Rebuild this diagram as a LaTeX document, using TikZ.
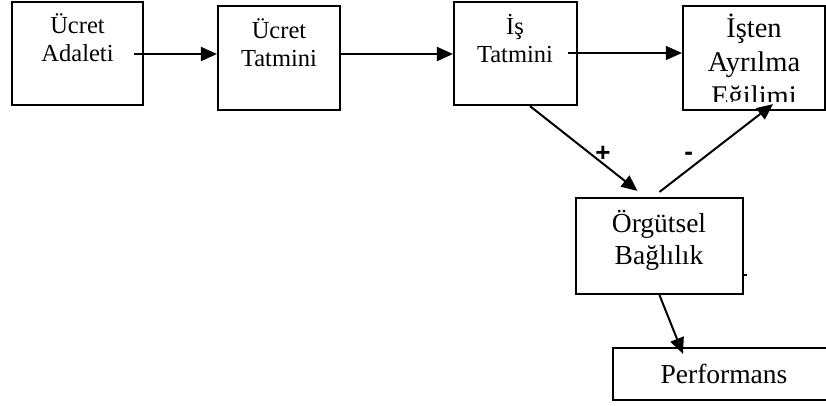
\documentclass[tikz,border=0pt]{standalone}
\usepackage{fontspec}
\setmainfont{Liberation Serif}
\newfontfamily\isaretfont{Liberation Sans}
\usetikzlibrary{positioning,arrows.meta}

\tikzset{
  kutu/.style={draw=black,line width=2.2pt,inner sep=0pt},
  yazi/.style={align=center,inner sep=0pt,font=\fontsize{24.5}{28}\selectfont},
  buyukyazi/.style={align=center,inner sep=0pt,font=\fontsize{27.5}{32}\selectfont},
  ok/.style={draw=black,line width=2pt,-{Triangle[length=16pt,width=14pt]}},
  isaret/.style={font=\isaretfont\bfseries\fontsize{26}{26}\selectfont}
}

\begin{document}
\begin{tikzpicture}[x=1pt,y=-1pt]
\useasboundingbox (0,0) rectangle (826,405);

\node[kutu,minimum width=131pt,minimum height=103pt] (ucretadalet) at (77.5,53.5) {};
\node[kutu,minimum width=122pt,minimum height=104pt] (ucrettatmin) at (279,58) {};
\node[kutu,minimum width=123pt,minimum height=103pt] (istatmin) at (515.5,53.5) {};
\node[kutu,minimum width=142pt,minimum height=104pt] (ayrilma) at (754,58) {};
\node[kutu,minimum width=167pt,minimum height=96pt] (bagli) at (659.5,246) {};
\node[kutu,minimum width=230pt,minimum height=52pt] (perf) at (728,374) {};

\node[yazi] (t1) at (77.5,38) {Ücret\\Adaleti};
\node[yazi] (t2) at (279,43) {Ücret\\Tatmini};
\node[yazi] (t3) at (515,39) {İş\\Tatmini};
\begin{scope}
\clip (683,8) rectangle (825,101);
\node[buyukyazi,font=\fontsize{28.5}{34}\selectfont] (t4) at (754,63) {İşten\\Ayrılma\\Eğilimi};
\end{scope}
\node[buyukyazi] (t5) at (659,240.5) {Örgütsel\\Bağlılık};
\node[buyukyazi,anchor=base] (t6) at (724,383) {Performans};

\coordinate (c1) at (134,54);
\coordinate (c3) at (568,53);
\draw[ok] (c1) -- (c1 -| ucrettatmin.west);
\draw[ok] (ucrettatmin.east |- c1) -- (istatmin.west |- c1);
\draw[ok,line width=1.2pt] (c3) -- (c3 -| ayrilma.west);

\draw[ok] ([xshift=14.5pt]istatmin.south) -- node[pos=0.54,xshift=15pt,yshift=-2pt,isaret]{+} ([xshift=-22pt,yshift=6pt]bagli.north);
\draw[ok] ([yshift=5pt]bagli.north) -- node[pos=0.46,xshift=-23pt,yshift=-5pt,isaret]{-} ([xshift=19pt,yshift=7pt]ayrilma.south);
\draw[ok] (bagli.south) -- ([xshift=-45pt,yshift=-7pt]perf.north);

\draw[line width=1.5pt] ([yshift=-29pt]bagli.east) -- ([xshift=3pt,yshift=-29pt]bagli.east);
\end{tikzpicture}
\end{document}
